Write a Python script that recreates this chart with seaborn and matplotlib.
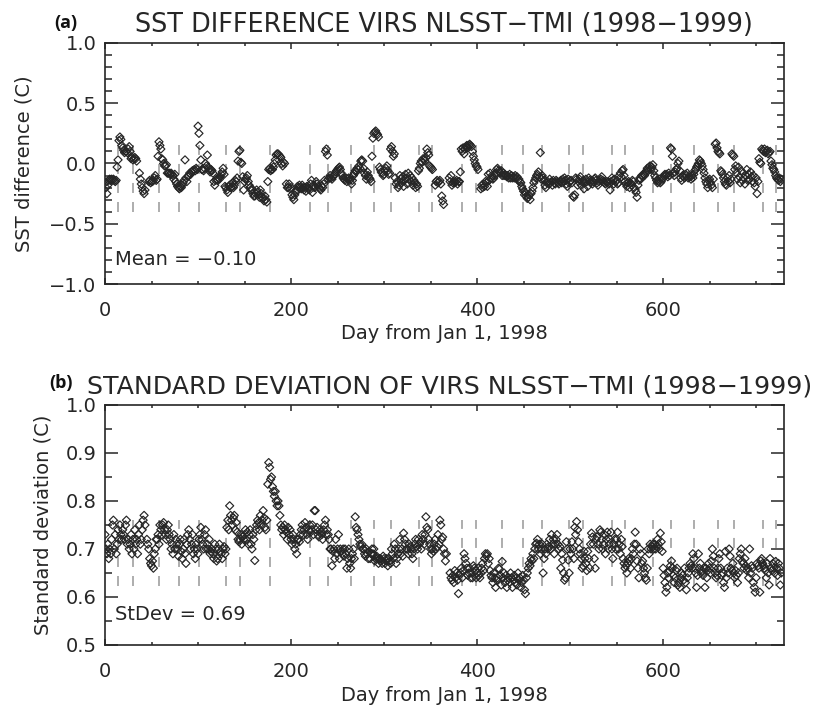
import numpy as np
import pandas as pd
import matplotlib
matplotlib.use("Agg")
import matplotlib.pyplot as plt
import seaborn as sns
from matplotlib.ticker import MultipleLocator, FuncFormatter

nan = np.nan

# ---------------- data ----------------
# (a) daily mean SST difference VIRS NLSST - TMI, one value per day from day 0 (nan = no data)
sst_diff = [
    -0.16, -0.20, -0.25, -0.18, -0.14, -0.13, -0.14, -0.13, -0.14, -0.13,
    -0.14, -0.15, -0.14, -0.03, 0.03, 0.19, 0.22, 0.20, 0.15, 0.13,
    0.11, 0.09, 0.10, 0.10, 0.09, 0.12, 0.14, 0.10, 0.04, 0.05,
    0.03, 0.04, 0.05, 0.04, 0.02, nan, nan, -0.08, -0.13, -0.17,
    -0.20, -0.23, -0.25, -0.22, nan, nan, nan, -0.15, -0.14, -0.16,
    -0.15, -0.15, -0.14, -0.12, -0.10, -0.14, -0.13, 0.06, 0.18, 0.15,
    0.12, 0.04, 0.03, 0.00, -0.02, -0.02, -0.01, -0.08, -0.08, -0.08,
    -0.09, -0.08, -0.09, -0.10, -0.13, -0.09, -0.15, -0.17, -0.19, -0.20,
    -0.21, -0.19, -0.20, -0.18, -0.16, -0.14, 0.03, -0.12, -0.15, -0.11,
    -0.10, -0.08, -0.09, -0.07, -0.06, -0.06, -0.05, -0.06, -0.04, -0.05,
    0.31, 0.25, 0.15, 0.03, -0.05, -0.05, -0.06, -0.04, 0.00, -0.02,
    0.07, -0.03, -0.05, -0.07, -0.05, -0.06, -0.08, -0.15, -0.18, -0.14,
    -0.13, -0.14, -0.12, -0.13, -0.11, -0.09, -0.07, -0.04, -0.09, -0.19,
    -0.20, -0.22, -0.24, -0.19, -0.18, -0.20, -0.20, -0.16, -0.20, -0.18,
    -0.14, -0.15, -0.12, 0.02, 0.10, 0.11, 0.01, 0.00, -0.11, -0.22,
    -0.15, -0.13, -0.12, -0.10, -0.15, -0.18, -0.20, -0.22, -0.21, -0.25,
    -0.27, -0.27, -0.25, -0.22, -0.24, -0.26, -0.28, -0.22, -0.25, -0.28,
    -0.29, -0.31, -0.27, -0.30, -0.32, -0.15, -0.05, -0.04, -0.06, -0.05,
    -0.05, -0.03, 0.00, 0.03, 0.07, 0.08, 0.08, 0.07, 0.06, 0.05,
    0.00, -0.02, 0.01, 0.00, nan, -0.17, -0.20, -0.20, -0.17, -0.21,
    -0.20, -0.26, -0.28, -0.30, -0.26, -0.24, -0.22, -0.19, -0.20, -0.18,
    -0.20, -0.21, -0.18, -0.20, -0.22, -0.20, -0.23, -0.19, -0.20, -0.21,
    -0.22, -0.17, -0.14, -0.24, -0.18, -0.20, -0.19, -0.15, -0.17, -0.19,
    -0.20, -0.21, -0.22, -0.19, -0.20, -0.17, -0.14, 0.10, 0.12, 0.07,
    -0.13, -0.12, -0.10, -0.12, -0.13, -0.11, -0.10, -0.09, -0.07, -0.06,
    -0.05, -0.04, -0.03, -0.05, -0.08, -0.10, -0.12, -0.13, -0.14, -0.12,
    -0.15, -0.13, -0.12, -0.14, -0.13, -0.17, -0.14, -0.10, -0.08, -0.06,
    -0.07, -0.04, -0.05, -0.02, -0.04, 0.02, 0.03, 0.02, -0.04, -0.08,
    -0.10, -0.13, -0.07, -0.10, -0.12, -0.13, -0.15, 0.06, 0.21, 0.25,
    0.26, 0.27, 0.25, 0.24, 0.22, -0.03, -0.05, -0.07, -0.08, -0.10,
    -0.09, -0.06, -0.04, -0.02, -0.06, -0.09, -0.08, 0.12, 0.14, 0.10,
    0.06, 0.08, -0.12, -0.17, -0.15, -0.20, -0.18, -0.10, -0.13, -0.16,
    -0.11, -0.19, -0.14, -0.09, -0.12, -0.17, -0.08, -0.13, -0.10, -0.15,
    -0.12, -0.18, -0.14, -0.16, -0.20, -0.17, -0.19, -0.06, -0.04, 0.00,
    0.02, 0.01, 0.04, 0.03, 0.02, 0.05, 0.12, 0.09, 0.07, -0.02,
    -0.03, -0.04, -0.05, nan, nan, -0.18, -0.15, -0.14, -0.16, -0.15,
    -0.14, -0.17, -0.27, -0.31, -0.34, nan, nan, nan, nan, nan,
    -0.12, -0.15, -0.10, -0.18, -0.16, -0.15, -0.16, -0.15, -0.14, -0.17,
    -0.15, -0.15, -0.07, 0.12, 0.10, 0.13, 0.08, 0.12, 0.14, 0.15,
    0.13, 0.15, 0.16, 0.15, 0.14, 0.10, 0.06, 0.03, 0.00, -0.02,
    -0.03, -0.05, nan, nan, -0.21, -0.18, -0.20, -0.17, -0.19, -0.15,
    -0.16, -0.19, -0.09, -0.14, -0.08, -0.12, -0.10, -0.13, -0.12, -0.10,
    -0.08, -0.05, -0.04, -0.06, -0.07, -0.08, -0.06, -0.10, -0.08, -0.10,
    -0.09, -0.10, -0.11, -0.10, -0.12, -0.09, -0.12, -0.10, -0.12, -0.11,
    -0.12, -0.10, -0.12, -0.11, -0.14, -0.13, -0.15, -0.16, -0.19, -0.21,
    -0.23, -0.26, -0.24, -0.27, -0.29, -0.28, -0.26, -0.30, -0.25, -0.23,
    -0.20, -0.16, -0.14, -0.12, -0.10, -0.09, -0.07, -0.11, 0.09, -0.13,
    -0.10, -0.12, -0.14, -0.18, -0.20, -0.16, -0.15, -0.17, -0.13, -0.16,
    -0.15, -0.18, -0.14, -0.16, -0.17, -0.14, -0.15, -0.16, -0.17, -0.15,
    -0.14, -0.16, -0.13, -0.15, -0.12, -0.14, -0.17, -0.19, -0.13, -0.16,
    -0.15, -0.14, -0.16, -0.27, -0.28, -0.26, -0.12, -0.13, -0.18, -0.15,
    -0.13, -0.11, -0.18, -0.15, -0.14, -0.21, -0.16, -0.13, -0.15, -0.19,
    -0.12, -0.14, -0.16, -0.14, -0.17, -0.15, -0.13, -0.12, -0.14, -0.16,
    -0.18, -0.15, -0.14, -0.13, -0.11, -0.14, -0.15, -0.16, -0.17, -0.15,
    -0.16, -0.15, -0.17, -0.22, -0.15, -0.12, -0.14, -0.17, -0.13, -0.15,
    -0.14, -0.17, -0.16, -0.10, -0.08, -0.11, -0.06, -0.05, -0.10, -0.15,
    -0.17, -0.19, -0.16, -0.15, -0.20, -0.16, -0.18, -0.14, -0.15, -0.20,
    -0.22, -0.24, -0.28, -0.18, -0.14, -0.12, -0.13, -0.10, -0.11, -0.09,
    -0.10, -0.08, -0.06, -0.04, -0.06, -0.03, -0.02, -0.05, -0.03, -0.01,
    -0.06, -0.10, -0.12, -0.14, -0.16, -0.15, -0.13, -0.16, -0.15, -0.13,
    -0.12, -0.10, -0.09, -0.10, -0.09, -0.11, -0.08, -0.10, 0.13, 0.12,
    0.06, -0.08, -0.10, -0.07, -0.05, -0.04, 0.00, 0.02, -0.06, -0.12,
    -0.14, -0.10, -0.11, -0.12, -0.09, -0.10, -0.08, -0.12, -0.10, -0.11,
    -0.13, -0.10, -0.12, -0.09, -0.06, -0.05, -0.03, -0.02, 0.00, 0.03,
    0.02, 0.00, -0.02, -0.05, -0.08, -0.12, -0.15, -0.17, -0.20, -0.14,
    -0.13, -0.16, -0.18, -0.20, -0.13, nan, 0.16, 0.17, 0.13, 0.10,
    0.09, 0.08, -0.06, -0.07, -0.09, -0.12, -0.15, -0.17, -0.18, -0.12,
    -0.15, -0.10, -0.16, -0.13, 0.08, 0.07, 0.06, -0.05, -0.02, -0.08,
    -0.13, -0.03, -0.11, -0.16, -0.06, -0.14, -0.08, -0.12, -0.17, -0.10,
    -0.05, -0.14, -0.09, -0.13, -0.07, -0.11, -0.15, -0.10, -0.16, -0.19,
    -0.12, -0.25, -0.15, 0.04, 0.01, 0.00, 0.12, 0.11, 0.10, 0.12,
    0.09, 0.10, 0.11, 0.08, 0.09, 0.10, 0.02, -0.01, -0.04, -0.05,
    -0.07, -0.10, -0.12, -0.13, -0.14, -0.12, -0.15, -0.13, nan, nan,
]

# (b) daily standard deviation of VIRS NLSST - TMI
sst_std = [
    0.73, 0.70, 0.69, 0.71, 0.68, 0.70, 0.69, 0.72, 0.75, 0.76,
    0.70, 0.73, 0.69, 0.71, 0.74, 0.72, 0.75, 0.73, 0.72, 0.74,
    0.73, 0.72, 0.75, 0.76, 0.71, 0.72, 0.70, 0.71, 0.73, 0.69,
    0.72, 0.70, 0.74, 0.71, 0.72, 0.69, 0.73, 0.75, 0.71, 0.72,
    0.74, 0.76, 0.77, 0.75, nan, 0.72, 0.71, 0.70, 0.68, 0.67,
    0.665, 0.675, 0.66, 0.69, 0.70, 0.72, 0.72, 0.73, 0.71, 0.75,
    0.74, 0.73, 0.75, 0.755, 0.74, 0.73, 0.72, 0.74, 0.75, 0.73,
    0.72, 0.70, 0.71, 0.69, 0.73, 0.70, 0.72, 0.71, 0.70, 0.685,
    0.71, 0.72, 0.695, 0.68, 0.70, 0.72, 0.69, 0.67, 0.71, 0.73,
    0.74, 0.72, 0.70, 0.71, 0.73, 0.69, 0.70, 0.68, 0.71, 0.70,
    0.69, 0.72, 0.73, 0.745, 0.72, 0.71, 0.70, 0.73, 0.74, 0.70,
    0.71, 0.70, 0.72, 0.69, 0.695, 0.70, 0.69, 0.68, 0.71, 0.70,
    0.675, 0.68, 0.70, 0.71, 0.695, 0.69, 0.68, 0.70, 0.705, 0.69,
    0.70, 0.745, 0.76, 0.74, 0.79, 0.77, 0.76, 0.75, 0.765, 0.77,
    0.74, 0.755, 0.735, 0.72, 0.715, 0.72, 0.73, 0.71, 0.725, 0.72,
    0.73, 0.74, 0.72, 0.735, 0.71, 0.73, 0.74, 0.71, 0.70, 0.73,
    0.72, 0.676, 0.74, 0.75, 0.76, 0.755, 0.74, 0.77, 0.75, 0.76,
    0.78, 0.765, 0.745, 0.74, 0.76, 0.835, 0.88, 0.87, 0.845, 0.85,
    0.83, 0.82, 0.81, 0.82, 0.80, 0.79, 0.80, 0.79, 0.77, 0.75,
    0.74, 0.745, 0.73, 0.75, 0.74, 0.735, 0.72, 0.745, 0.73, 0.74,
    0.72, 0.71, 0.73, 0.72, 0.70, 0.71, 0.69, 0.72, 0.72, 0.715,
    0.73, 0.74, 0.75, 0.73, 0.74, 0.755, 0.745, 0.73, 0.72, 0.74,
    0.75, 0.735, 0.74, 0.75, 0.73, 0.78, 0.78, 0.74, 0.745, 0.73,
    0.725, 0.74, 0.735, 0.73, 0.72, 0.74, 0.75, 0.76, 0.73, 0.74,
    0.73, 0.72, 0.70, 0.70, 0.665, 0.695, 0.70, 0.68, 0.72, 0.69,
    0.70, 0.73, 0.68, 0.70, 0.695, 0.69, 0.70, 0.685, 0.70, 0.69,
    0.66, 0.68, 0.70, 0.67, 0.66, 0.68, 0.69, 0.70, 0.68, 0.767,
    0.745, 0.74, 0.73, 0.72, 0.71, 0.705, 0.71, 0.70, 0.70, 0.69,
    0.685, 0.70, 0.69, 0.68, 0.695, 0.68, 0.69, 0.70, 0.69, 0.70,
    0.675, 0.68, 0.685, 0.68, 0.67, 0.68, 0.68, 0.675, 0.67, 0.685,
    0.68, 0.67, 0.675, 0.68, 0.665, 0.68, 0.675, 0.67, 0.70, 0.69,
    0.68, 0.71, 0.70, 0.67, 0.68, 0.69, 0.70, 0.72, 0.69, 0.70,
    0.685, 0.733, 0.72, 0.71, 0.70, 0.70, 0.69, 0.71, 0.705, 0.70,
    0.69, 0.68, 0.70, 0.71, 0.72, 0.705, 0.70, 0.72, 0.71, 0.715,
    0.70, 0.73, 0.72, 0.71, 0.73, 0.767, 0.745, 0.74, 0.72, 0.71,
    0.70, 0.69, 0.70, 0.695, 0.71, 0.72, 0.70, 0.705, 0.73, 0.71,
    0.76, 0.75, 0.72, 0.725, 0.70, 0.69, 0.675, 0.69, nan, nan,
    nan, 0.65, 0.64, 0.635, 0.645, 0.63, 0.655, 0.64, 0.65, 0.635,
    0.607, 0.645, 0.65, 0.66, 0.64, 0.655, 0.69, 0.68, 0.67, 0.66,
    0.645, 0.65, 0.66, 0.64, 0.65, 0.64, 0.665, 0.66, 0.655, 0.64,
    0.65, 0.66, 0.645, 0.64, 0.65, 0.66, 0.67, 0.655, 0.68, 0.69,
    0.685, 0.69, 0.67, 0.68, 0.655, 0.645, 0.64, 0.63, 0.65, 0.64,
    0.62, 0.635, 0.64, 0.66, 0.658, 0.645, 0.625, 0.674, 0.64, 0.65,
    0.63, 0.645, 0.62, 0.635, 0.64, 0.63, 0.65, 0.64, 0.62, 0.635,
    0.645, 0.63, 0.64, 0.625, 0.65, 0.635, 0.64, 0.62, 0.63, 0.645,
    0.635, 0.615, 0.607, 0.64, 0.65, 0.66, 0.67, 0.665, 0.68, 0.675,
    0.69, 0.68, 0.70, 0.71, 0.712, 0.72, 0.70, 0.71, 0.69, 0.70,
    0.71, 0.65, 0.68, 0.70, 0.69, 0.71, 0.70, 0.705, 0.72, 0.70,
    0.73, 0.71, 0.72, 0.69, 0.71, 0.72, 0.73, 0.71, 0.70, 0.705,
    0.66, 0.69, 0.677, 0.65, 0.635, 0.64, 0.715, 0.70, 0.677, 0.65,
    0.70, 0.69, 0.715, 0.70, 0.68, 0.745, 0.73, 0.757, 0.74, 0.715,
    0.70, 0.69, 0.68, 0.66, 0.665, 0.695, 0.68, 0.67, 0.655, 0.695,
    0.68, 0.66, 0.71, 0.733, 0.725, 0.71, 0.68, 0.66, 0.72, 0.725,
    0.71, 0.70, 0.74, 0.735, 0.72, 0.70, 0.71, 0.73, 0.69, 0.72,
    0.735, 0.70, 0.71, 0.72, 0.735, 0.70, 0.68, 0.71, 0.72, 0.70,
    0.72, 0.735, 0.70, 0.71, 0.69, 0.72, 0.705, 0.68, 0.67, 0.66,
    0.665, 0.65, 0.67, 0.68, 0.675, 0.66, 0.68, 0.70, 0.69, 0.71,
    0.735, 0.71, 0.675, 0.66, 0.64, 0.70, 0.69, 0.67, 0.675, 0.66,
    0.65, 0.64, 0.635, 0.66, 0.70, 0.69, 0.71, 0.70, 0.705, 0.71,
    0.70, 0.71, 0.70, 0.705, 0.72, 0.71, 0.70, 0.733, 0.715, 0.695,
    0.66, 0.645, 0.63, 0.61, 0.62, 0.65, 0.64, 0.655, 0.665, 0.675,
    0.66, 0.645, 0.63, 0.64, 0.655, 0.66, 0.625, 0.63, 0.62, 0.64,
    0.65, 0.645, 0.635, 0.66, 0.63, 0.615, 0.64, 0.65, 0.66, 0.67,
    0.665, 0.66, 0.69, 0.68, 0.66, 0.65, 0.62, 0.645, 0.69, 0.66,
    0.67, 0.65, 0.655, 0.645, 0.66, 0.62, 0.66, 0.64, 0.655, 0.67,
    0.66, 0.65, 0.675, 0.70, 0.685, 0.66, 0.65, 0.64, 0.645, 0.66,
    0.68, 0.69, 0.66, 0.645, 0.65, 0.63, 0.62, 0.695, 0.64, 0.66,
    0.65, 0.70, 0.685, 0.66, 0.655, 0.67, 0.65, 0.64, 0.655, 0.645,
    0.63, 0.65, 0.68, 0.69, 0.70, 0.675, 0.67, 0.66, 0.68, 0.665,
    0.655, 0.66, 0.64, 0.70, 0.65, 0.665, 0.66, 0.63, 0.62, 0.61,
    0.64, 0.67, 0.665, 0.66, 0.61, 0.675, 0.68, 0.67, 0.665, 0.66,
    0.655, 0.64, 0.67, 0.65, 0.625, 0.68, 0.66, 0.655, 0.67, 0.66,
    0.65, 0.674, 0.66, 0.645, 0.67, 0.66, 0.625, 0.65, nan, nan,
]

# days of the dashed vertical markers
marker_days = [14, 30, 58, 80, 101, 130, 145, 177, 220, 240, 264, 289, 308,
               338, 352, 384, 399, 427, 449, 470, 499, 514, 545, 559, 589,
               608, 633, 659, 676, 707, 721]

mean_label = "Mean = \u22120.10"
std_label = "StDev = 0.69"
title_a = "SST DIFFERENCE VIRS NLSST\u2212TMI (1998\u22121999)"
title_b = "STANDARD DEVIATION OF VIRS NLSST\u2212TMI (1998\u22121999)"
xlabel = "Day from Jan 1, 1998"
ylabel_a = "SST difference (C)"
ylabel_b = "Standard deviation (C)"

# ---------------- figure ----------------
sns.set_theme(style="ticks")
plt.rcParams["font.family"] = ["DejaVu Sans"]
plt.rcParams["lines.scale_dashes"] = False

INK = "#262626"
df_a = pd.DataFrame({"day": np.arange(len(sst_diff)), "val": sst_diff}).dropna()
df_b = pd.DataFrame({"day": np.arange(len(sst_std)), "val": sst_std}).dropna()

fig = plt.figure(figsize=(8.16, 7.07), dpi=100)
ax1 = fig.add_axes([0.1287, 0.5983, 0.8321, 0.3409])
ax2 = fig.add_axes([0.1287, 0.0877, 0.8321, 0.3395])

minus_fmt = FuncFormatter(lambda v, p: f"{v:.1f}".replace("-", "\u2212"))


def style(ax, ymin, ymax, ymaj, ymin_step):
    ax.set_xlim(0, 730)
    ax.set_ylim(ymin, ymax)
    ax.xaxis.set_major_locator(MultipleLocator(200))
    ax.xaxis.set_minor_locator(MultipleLocator(50))
    ax.yaxis.set_major_locator(MultipleLocator(ymaj))
    ax.yaxis.set_minor_locator(MultipleLocator(ymin_step))
    ax.yaxis.set_major_formatter(minus_fmt)
    for s in ax.spines.values():
        s.set_visible(True)
        s.set_color(INK)
        s.set_linewidth(1.2)
    ax.tick_params(axis="both", which="both", direction="in", top=True,
                   right=True, colors=INK, labelsize=14, width=1.1)
    ax.tick_params(axis="x", which="major", length=4.5, pad=12)
    ax.tick_params(axis="x", which="minor", length=2.5)
    ax.tick_params(axis="y", which="major", length=9.5, pad=6)
    ax.tick_params(axis="y", which="minor", length=5)
    ax.set_xlabel(xlabel, fontsize=14, color=INK)


# panel (a)
ax1.vlines(marker_days, -0.40, 0.155, colors="#a0a0a0", linewidth=1.2,
           linestyles=[(0, (7.2, 6.5))], zorder=1)
sns.scatterplot(data=df_a, x="day", y="val", ax=ax1, marker="D", s=17,
                facecolor="none", edgecolor=INK, linewidth=0.85, zorder=3,
                legend=False)
style(ax1, -1.0, 1.0, 0.5, 0.1)
ax1.set_ylabel(ylabel_a, fontsize=14, color=INK)
ax1.yaxis.set_label_coords(-0.106, 0.5)
ax1.xaxis.set_label_coords(0.5, -0.165)
ax1.text(0.0147, 0.10, mean_label, transform=ax1.transAxes, fontsize=14,
         color=INK, va="center", ha="left")

# panel (b)
ax2.vlines(marker_days, 0.622, 0.76, colors="#a0a0a0", linewidth=1.2,
           linestyles=[(0, (7.2, 6.5))], zorder=1)
sns.scatterplot(data=df_b, x="day", y="val", ax=ax2, marker="D", s=17,
                facecolor="none", edgecolor=INK, linewidth=0.85, zorder=3,
                legend=False)
style(ax2, 0.5, 1.0, 0.1, 0.05)
ax2.set_ylabel(ylabel_b, fontsize=14, color=INK)
ax2.yaxis.set_label_coords(-0.078, 0.5)
ax2.xaxis.set_label_coords(0.5, -0.17)
ax2.text(0.0147, 0.125, std_label, transform=ax2.transAxes, fontsize=14,
         color=INK, va="center", ha="left")

# titles and panel letters
fig.text(0.5435, 0.9547, title_a, fontsize=18.4, color=INK, ha="center",
         va="baseline")
fig.text(0.551, 0.4441, title_b, fontsize=18.2, color=INK, ha="center",
         va="baseline")
fig.text(0.066, 0.9605, "(a)", fontsize=13, fontweight="bold",
         family=["Open Sans", "DejaVu Sans"], color="#111", ha="left",
         va="baseline")
fig.text(0.060, 0.4515, "(b)", fontsize=13, fontweight="bold",
         family=["Open Sans", "DejaVu Sans"], color="#111", ha="left",
         va="baseline")

fig.savefig("out.png", dpi=100)
